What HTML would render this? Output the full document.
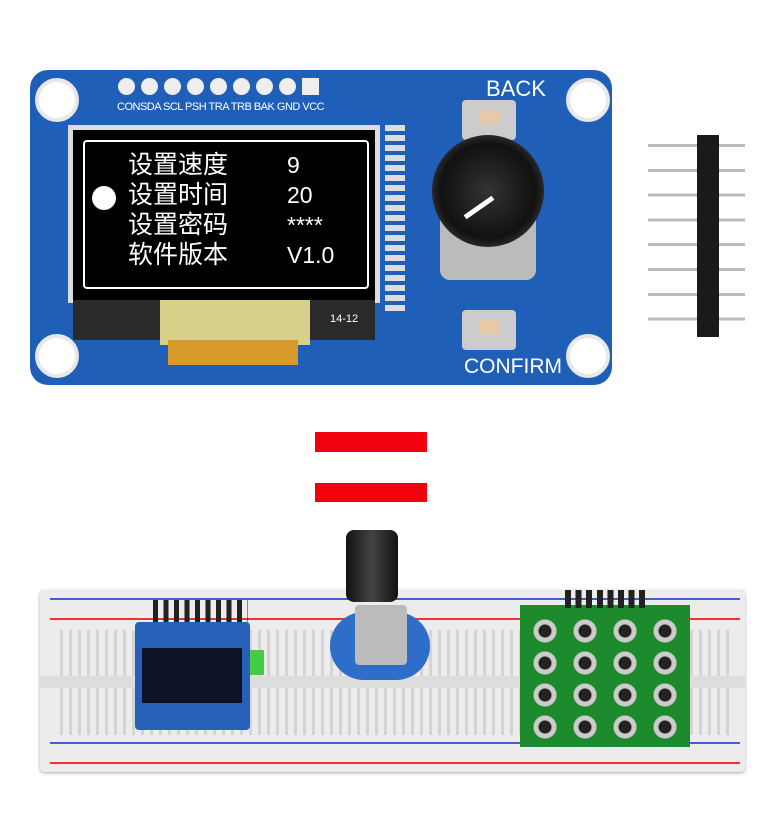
<!DOCTYPE html>
<html><head><meta charset="utf-8"><style>
body{margin:0;width:780px;height:825px;background:#fff;position:relative;overflow:hidden;font-family:"Liberation Sans","Noto Sans CJK SC",sans-serif}
.a{position:absolute}
</style></head><body>
<!-- Top PCB -->
<div class="a" style="left:30px;top:70px;width:582px;height:315px;background:#1f5fb8;border-radius:18px"></div>
<div class="a" style="left:35px;top:78px;width:36px;height:36px;border-radius:50%;background:#fff;border:4px solid #e8e8e8"></div>
<div class="a" style="left:566px;top:78px;width:36px;height:36px;border-radius:50%;background:#fff;border:4px solid #e8e8e8"></div>
<div class="a" style="left:35px;top:334px;width:36px;height:36px;border-radius:50%;background:#fff;border:4px solid #e8e8e8"></div>
<div class="a" style="left:566px;top:334px;width:36px;height:36px;border-radius:50%;background:#fff;border:4px solid #e8e8e8"></div>
<div class="a" style="left:118px;top:78px;width:210px;height:20px;display:flex;gap:6px">
<span style="width:17px;height:17px;border-radius:50%;background:#eee"></span><span style="width:17px;height:17px;border-radius:50%;background:#eee"></span><span style="width:17px;height:17px;border-radius:50%;background:#eee"></span><span style="width:17px;height:17px;border-radius:50%;background:#eee"></span><span style="width:17px;height:17px;border-radius:50%;background:#eee"></span><span style="width:17px;height:17px;border-radius:50%;background:#eee"></span><span style="width:17px;height:17px;border-radius:50%;background:#eee"></span><span style="width:17px;height:17px;border-radius:50%;background:#eee"></span><span style="width:17px;height:17px;background:#eee"></span></div>
<div class="a" style="left:117px;top:101px;font-size:11px;color:#fff;letter-spacing:-0.5px">CONSDA SCL PSH TRA TRB BAK GND VCC</div>
<div class="a" style="left:486px;top:76px;font-size:22px;color:#fff">BACK</div>
<div class="a" style="left:464px;top:355px;font-size:21px;color:#fff">CONFIRM</div>
<div class="a" style="left:68px;top:125px;width:312px;height:178px;background:#dcdcdc"></div>
<div class="a" style="left:73px;top:130px;width:302px;height:170px;background:#000"></div>
<div class="a" style="left:83px;top:140px;width:282px;height:145px;border:2px solid #fff;border-radius:4px"></div>
<div class="a" style="left:128px;top:150px;font-size:25px;color:#fff;line-height:30px">设置速度<br>设置时间<br>设置密码<br>软件版本</div>
<div class="a" style="left:287px;top:150px;font-size:23px;color:#fff;line-height:30px">9<br>20<br>****<br>V1.0</div>
<div class="a" style="left:92px;top:186px;width:24px;height:24px;border-radius:50%;background:#fff"></div>
<div class="a" style="left:73px;top:300px;width:302px;height:40px;background:#2a2a2a"></div>
<div class="a" style="left:160px;top:300px;width:150px;height:45px;background:#d8cf8a"></div>
<div class="a" style="left:168px;top:340px;width:130px;height:25px;background:#d79a2a"></div>
<div class="a" style="left:330px;top:313px;font-size:11px;color:#fff">14-12</div>
<div class="a" style="left:385px;top:125px;width:20px;height:190px;background:repeating-linear-gradient(#ddd 0 6px,#1f5fb8 6px 10px)"></div>
<div class="a" style="left:462px;top:100px;width:54px;height:40px;background:#ccc;border-radius:4px"></div>
<div class="a" style="left:480px;top:110px;width:20px;height:14px;background:#e9c8a8"></div>
<div class="a" style="left:462px;top:310px;width:54px;height:40px;background:#ccc;border-radius:4px"></div>
<div class="a" style="left:480px;top:320px;width:20px;height:14px;background:#e9c8a8"></div>
<div class="a" style="left:440px;top:170px;width:96px;height:110px;background:#bbb;border-radius:10px"></div>
<div class="a" style="left:432px;top:135px;width:112px;height:112px;border-radius:50%;background:radial-gradient(#333,#111 60%,#666)"></div>
<div class="a" style="left:462px;top:205px;width:34px;height:5px;background:#fff;transform:rotate(-35deg)"></div>
<div class="a" style="left:648px;top:135px;width:97px;height:200px;background:repeating-linear-gradient(transparent 0 9px,#bbb 9px 12px,transparent 12px 24.8px)"></div>
<div class="a" style="left:697px;top:135px;width:22px;height:202px;background:#1a1a1a"></div>
<div class="a" style="left:315px;top:432px;width:112px;height:20px;background:#f2000d"></div>
<div class="a" style="left:315px;top:483px;width:112px;height:19px;background:#f2000d"></div>
<div class="a" style="left:40px;top:590px;width:705px;height:182px;background:#ececec;border-radius:4px;box-shadow:0 1px 3px #aaa"></div>
<div class="a" style="left:50px;top:598px;width:690px;height:2px;background:#3a62c8"></div>
<div class="a" style="left:50px;top:618px;width:690px;height:2px;background:#e33"></div>
<div class="a" style="left:50px;top:742px;width:690px;height:2px;background:#3a62c8"></div>
<div class="a" style="left:50px;top:762px;width:690px;height:2px;background:#e33"></div>
<div class="a" style="left:60px;top:630px;width:670px;height:105px;background:repeating-linear-gradient(90deg,#bbb 0 3px,transparent 3px 9px);opacity:.5"></div>
<div class="a" style="left:40px;top:676px;width:705px;height:12px;background:#ddd"></div>
<div class="a" style="left:153px;top:600px;width:95px;height:22px;background:repeating-linear-gradient(90deg,#222 0 5px,transparent 5px 10.5px)"></div>
<div class="a" style="left:135px;top:622px;width:115px;height:108px;background:#2660b8;border-radius:4px"></div>
<div class="a" style="left:142px;top:648px;width:100px;height:55px;background:#0c1326"></div>
<div class="a" style="left:250px;top:650px;width:14px;height:25px;background:#4c4"></div>
<div class="a" style="left:330px;top:612px;width:100px;height:68px;background:#2e6ec9;border-radius:34px"></div>
<div class="a" style="left:355px;top:605px;width:52px;height:60px;background:#bbb;border-radius:4px"></div>
<div class="a" style="left:346px;top:530px;width:52px;height:72px;background:linear-gradient(90deg,#111,#444,#111);border-radius:8px"></div>
<div class="a" style="left:520px;top:605px;width:170px;height:142px;background:#1e8a2e"></div>
<div class="a" style="left:565px;top:590px;width:85px;height:18px;background:repeating-linear-gradient(90deg,#222 0 6px,transparent 6px 10.6px)"></div>
<div class="a" style="left:530px;top:616px;width:160px;height:128px;background:radial-gradient(circle at 15px 15px,#222 6px,#ccc 7px,#ccc 11px,transparent 12px);background-size:40px 32px"></div>
</body></html>
